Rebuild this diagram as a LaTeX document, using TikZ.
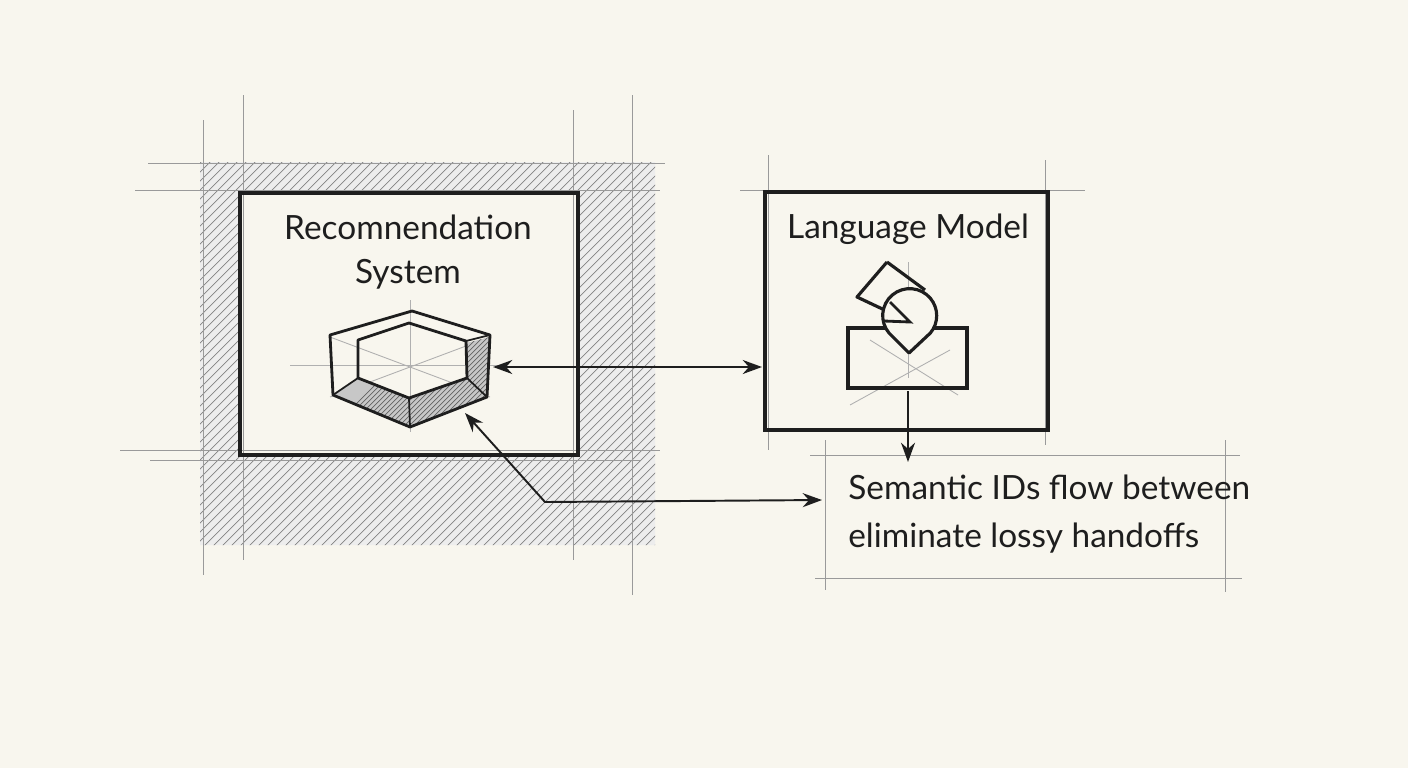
\documentclass[tikz,border=0pt]{standalone}
\usepackage{fontspec}
\setmainfont{Lato}
\usetikzlibrary{arrows.meta}
\definecolor{paper}{HTML}{F8F6EE}
\definecolor{ink}{HTML}{1E1E1E}
\begin{document}
\begin{tikzpicture}[x=0.02cm,y=-0.02cm,
  guide/.style={draw=ink!45,line width=0.5pt},
  frame/.style={draw=ink,line width=2.2pt},
  hatch/.style={draw=ink!55,line width=0.4pt},
  conn/.style={draw=ink,line width=1.1pt,-{Stealth[length=11pt,width=8pt]}},
  lbl/.style={font=\fontsize{19}{22}\selectfont,text=ink,inner sep=0pt}]
\fill[paper] (0,0) rectangle (1408,768);
\useasboundingbox (0,0) rectangle (1408,768);
% hatched band
\begin{scope}[even odd rule]
  \clip (200,162) rectangle (655,545) (240,193) rectangle (578,455);
  \fill[ink!8] (0,0) rectangle (1408,768);
  \foreach \i in {-450,-441,...,600} { \draw[hatch] (100+\i,560) -- (100+\i+420,140); }
\end{scope}
% guides left
\foreach \x/\a/\b in {203/120/575,243/95/560,573/110/560,632/95/595} \draw[guide] (\x,\a) -- (\x,\b);
\foreach \y/\a/\b in {163/148/665,190/135/660,450/120/660,460/150/640} \draw[guide] (\a,\y) -- (\b,\y);
% guides right
\draw[guide] (768,155) -- (768,450); \draw[guide] (1045,160) -- (1045,445);
\draw[guide] (740,190) -- (1085,190); \draw[guide] (1048,385) -- (1048,395);
% text box guides
\draw[guide] (810,455) -- (1240,455); \draw[guide] (815,578) -- (1242,578);
\draw[guide] (825,440) -- (825,590); \draw[guide] (1225,440) -- (1225,592);
% frames
\node[frame,minimum width=338*0.02cm,minimum height=262*0.02cm,inner sep=0pt] (rs) at (409,324) {};
\node[frame,minimum width=283*0.02cm,minimum height=238*0.02cm,inner sep=0pt] (lm) at (906.5,311) {};
\node[lbl,align=center] (rst) at (408,252) {Recomnendation\\[3pt]System};
\node[lbl] (lmt) at (908,229) {Language Model};
\node[lbl,align=left,anchor=west] (sem) at (848,514) {Semantic IDs flow between\\[5pt]eliminate lossy handoffs};
\coordinate (semin) at (822,500);
% hexagon
\draw[guide,ink!35] (290,365) -- (500,365);
\draw[guide,ink!35] (410,300) -- (410,432);
\draw[guide,ink!35] (330,337) -- (490,397); \draw[guide,ink!35] (330,397) -- (490,337);
\fill[ink!25] (333,395) -- (410,427) -- (487,397) -- (490,337) -- (466,343) -- (467,378) -- (409,398) -- (358,378) -- cycle;
\begin{scope}
 \clip (333,395) -- (410,427) -- (487,397) -- (490,337) -- (466,343) -- (467,378) -- (409,398) -- (358,378) -- cycle;
 \foreach \i in {0,5,...,220} \draw[hatch,ink!70] (320+\i,440) -- (320+\i+110,330);
\end{scope}
\draw[ink,line width=1.6pt,line join=round] (412,311) -- (490,335) -- (487,397) -- (410,427) -- (333,395) -- (330,335) -- cycle;
\draw[ink,line width=1.6pt,line join=round] (409,323) -- (466,341) -- (467,378) -- (409,398) -- (358,378) -- (358,340) -- cycle;
\draw[ink,line width=1pt] (466,341) -- (490,335) (467,378) -- (487,397) (409,398) -- (410,427) (358,378) -- (333,395);
\coordinate (hexR) at (493,367);
\coordinate (hexB) at (465,413);
% LM icon
\draw[guide,ink!35] (908,262) -- (908,378);
\draw[guide,ink!35] (850,405) -- (950,350); \draw[guide,ink!35] (870,340) -- (958,395);
\draw[ink,line width=2pt] (848,328) rectangle (967,388);
\draw[ink,line width=1.8pt,line join=round] (887,262) -- (857,297) -- (910,322) -- (885,322) -- (883,314) (887,262) -- (925,290);
\fill[paper] (889,333) arc (140:400:27) -- (909,353) -- cycle;
\draw[ink,line width=1.8pt,line join=round] (889,333) arc (140:400:27) -- (909,353) -- cycle;
\draw[ink,line width=1.6pt] (890,302) -- (910,322) -- (884,321);
\node[inner sep=0pt] (lmicon) at (908,390) {};
% connectors
\coordinate (lmL) at (762,367);
\draw[conn,{Stealth[length=11pt,width=8pt]}-{Stealth[length=11pt,width=8pt]}] (hexR) -- (lmL);
\draw[conn] (lmicon) -- (908,462);
\draw[conn,{Stealth[length=11pt,width=8pt]}-{Stealth[length=11pt,width=8pt]}] (hexB) -- (545,502) -- (semin);
\end{tikzpicture}
\end{document}
